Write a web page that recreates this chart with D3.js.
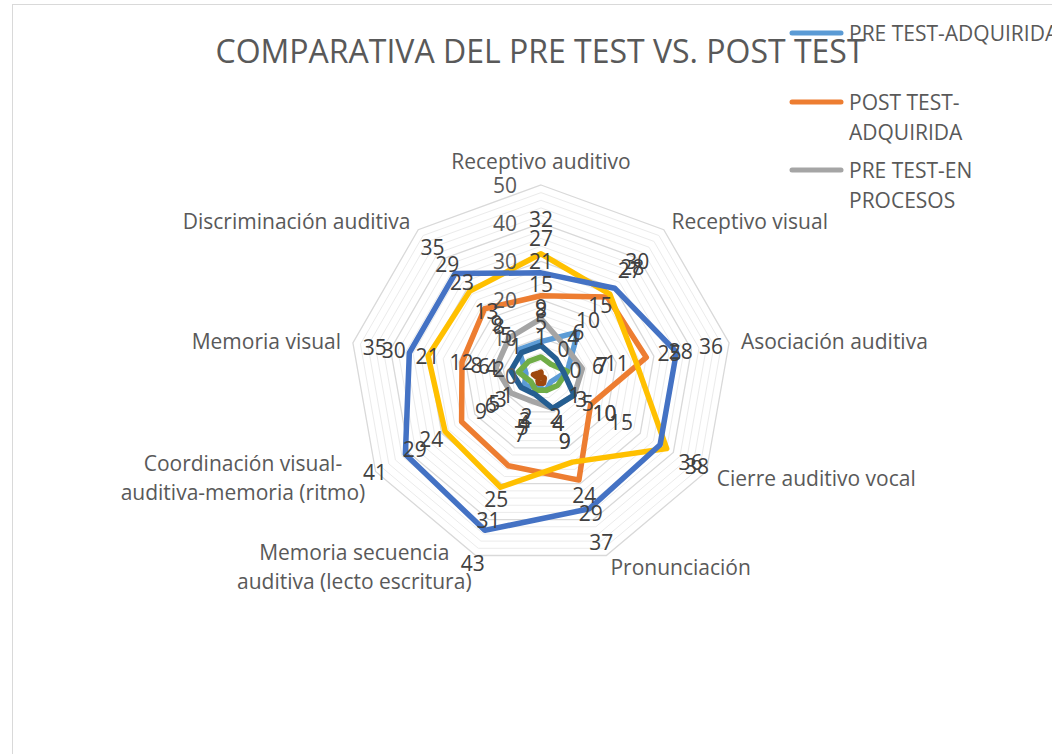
<!DOCTYPE html>
<html>
<head>
<meta charset="utf-8">
<title>Comparativa pre test vs post test</title>
<script src="https://d3js.org/d3.v7.min.js"></script>
<style>
  body{margin:0;background:#fff;}
  text{font-family:'Open Sans',sans-serif;}
</style>
</head>
<body>
<div class="chart"></div>
<script>
// categorias del radar, en el orden de las agujas del reloj desde arriba
const categories = [
  "Receptivo auditivo",
  "Receptivo visual",
  "Asociación auditiva",
  "Cierre auditivo vocal",
  "Pronunciación",
  "Memoria secuencia\nauditiva (lecto escritura)",
  "Coordinación visual-\nauditiva-memoria (ritmo)",
  "Memoria visual",
  "Discriminación auditiva"
];

const seriesNames = [
  "PRE TEST-ADQUIRIDA",
  "POST TEST-ADQUIRIDA",
  "PRE TEST-EN PROCESOS",
  "POST TEST-EN PROCESOS",
  "PRE TEST-INICIO",
  "POST TEST-INICIO",
  "PRE TEST-NO LOGRADO",
  "POST TEST-NO LOGRADO"
];
const seriesColors = ["#5B9BD5","#ED7D31","#A5A5A5","#FFC000","#4472C4","#70AD47","#255E91","#9E480E"];

const preAdquirida   = [9, 15, 7, 3, 4, 3, 5, 4, 9];
const postAdquirida  = [21, 27, 28, 15, 29, 25, 24, 21, 23];
const preProcesos    = [15, 10, 11, 10, 9, 7, 9, 12, 13];
const postProcesos   = [32, 28, 25, 38, 24, 31, 29, 30, 29];
const preInicio      = [27, 30, 36, 36, 37, 43, 41, 35, 35];
const postInicio     = [5, 4, 7, 5, 4, 4, 3, 6, 5];
const preNoLogrado   = [8, 6, 6, 10, 9, 5, 6, 8, 8];
const postNoLogrado  = [1, 0, 0, 1, 2, 2, 1, 2, 1];
const seriesValues = [preAdquirida, postAdquirida, preProcesos, postProcesos,
                      preInicio, postInicio, preNoLogrado, postNoLogrado];

const tickValues = [0, 10, 20, 30, 40, 50];
const legendCount = 3;   // el resto de la leyenda queda fuera del area

const W = 1052, H = 754;
const cx = 541, cy = 376, R = 191;
const txt = "#595959";
const fs = 21;

const svg = d3.select('.chart').append('svg')
  .attr('width', W).attr('height', H);

// marco del area del grafico
svg.append('rect').attr('x', 12.5).attr('y', 4.5).attr('width', W).attr('height', H)
  .attr('fill', 'none').attr('stroke', '#D9D9D9');

const rScale = d3.scaleLinear().domain([0, 50]).range([0, R]);
const angle = i => i * 2 * Math.PI / categories.length;
const pt = (i, r) => [r * Math.sin(angle(i)), -r * Math.cos(angle(i))];

const chart = svg.append('g').attr('transform', `translate(${cx},${cy})`);

// rejilla
const gridVals = d3.range(2, 51, 2);
chart.append('g').selectAll('polygon').data(gridVals).join('polygon')
  .attr('points', v => categories.map((c, i) => pt(i, rScale(v)).join(',')).join(' '))
  .attr('fill', 'none')
  .attr('stroke', v => v % 10 === 0 ? '#D9D9D9' : '#EBEBEB')
  .attr('stroke-width', v => v % 10 === 0 ? 1.3 : 1);

// series
const line = d3.lineRadial()
  .angle((d, i) => angle(i))
  .radius(d => rScale(d))
  .curve(d3.curveLinearClosed);

chart.append('g').selectAll('path').data(seriesValues).join('path')
  .attr('d', line)
  .attr('fill', 'none')
  .attr('stroke', (d, i) => seriesColors[i])
  .attr('stroke-width', 5.5)
  .attr('stroke-linejoin', 'round');

// etiquetas del eje de valores
chart.append('g').selectAll('text').data(tickValues).join('text')
  .attr('x', -24).attr('y', d => -rScale(d))
  .attr('text-anchor', 'end').attr('dominant-baseline', 'central')
  .attr('font-size', fs).attr('fill', txt)
  .text(d => d);

// etiquetas de datos
const labels = [];
seriesValues.forEach((vals, s) => vals.forEach((v, i) => labels.push({v, i})));
chart.append('g').selectAll('text').data(labels).join('text')
  .attr('x', d => pt(d.i, rScale(d.v) + 35)[0])
  .attr('y', d => pt(d.i, rScale(d.v) + 35)[1])
  .attr('text-anchor', 'middle').attr('dominant-baseline', 'central')
  .attr('font-size', fs).attr('fill', '#404040')
  .text(d => d.v);

// nombres de categorias
const catG = chart.append('g');
categories.forEach((c, i) => {
  const lines = c.split('\n');
  const a = angle(i);
  const top = Math.abs(Math.sin(a)) < 0.1;
  const p = pt(i, R + (top ? 24 : 12));
  const t = catG.append('text').attr('font-size', fs).attr('fill', txt)
    .attr('dominant-baseline', 'central');
  const spans = lines.map((l, k) => t.append('tspan').text(l)
    .attr('y', p[1] + (k - (lines.length - 1) / 2) * 29));
  const widths = spans.map(sp => sp.node().getComputedTextLength());
  const maxW = d3.max(widths);
  let mid;
  if (top) mid = p[0];
  else if (p[0] > 0) mid = p[0] + maxW / 2;
  else mid = p[0] - maxW / 2;
  t.attr('text-anchor', 'middle');
  spans.forEach(sp => sp.attr('x', mid));
});

// titulo
svg.append('text').attr('x', 540).attr('y', 50)
  .attr('text-anchor', 'middle').attr('dominant-baseline', 'central')
  .attr('font-size', 32).attr('fill', txt)
  .text('COMPARATIVA DEL PRE TEST VS. POST TEST');

// leyenda
const legend = svg.append('g').attr('transform', 'translate(790,33)');
const legendLines = [["PRE TEST-ADQUIRIDA"], ["POST TEST-", "ADQUIRIDA"], ["PRE TEST-EN", "PROCESOS"]];
legendLines.slice(0, legendCount).forEach((ls, k) => {
  const y = [0, 69, 137][k];
  legend.append('line').attr('x1', 2).attr('x2', 51).attr('y1', y).attr('y2', y)
    .attr('stroke', seriesColors[k]).attr('stroke-width', 5).attr('stroke-linecap', 'round');
  const t = legend.append('text').attr('font-size', fs).attr('fill', txt)
    .attr('dominant-baseline', 'central');
  ls.forEach((l, j) => t.append('tspan').attr('x', 59).attr('y', y + j * 30).text(l));
});
</script>
</body>
</html>
